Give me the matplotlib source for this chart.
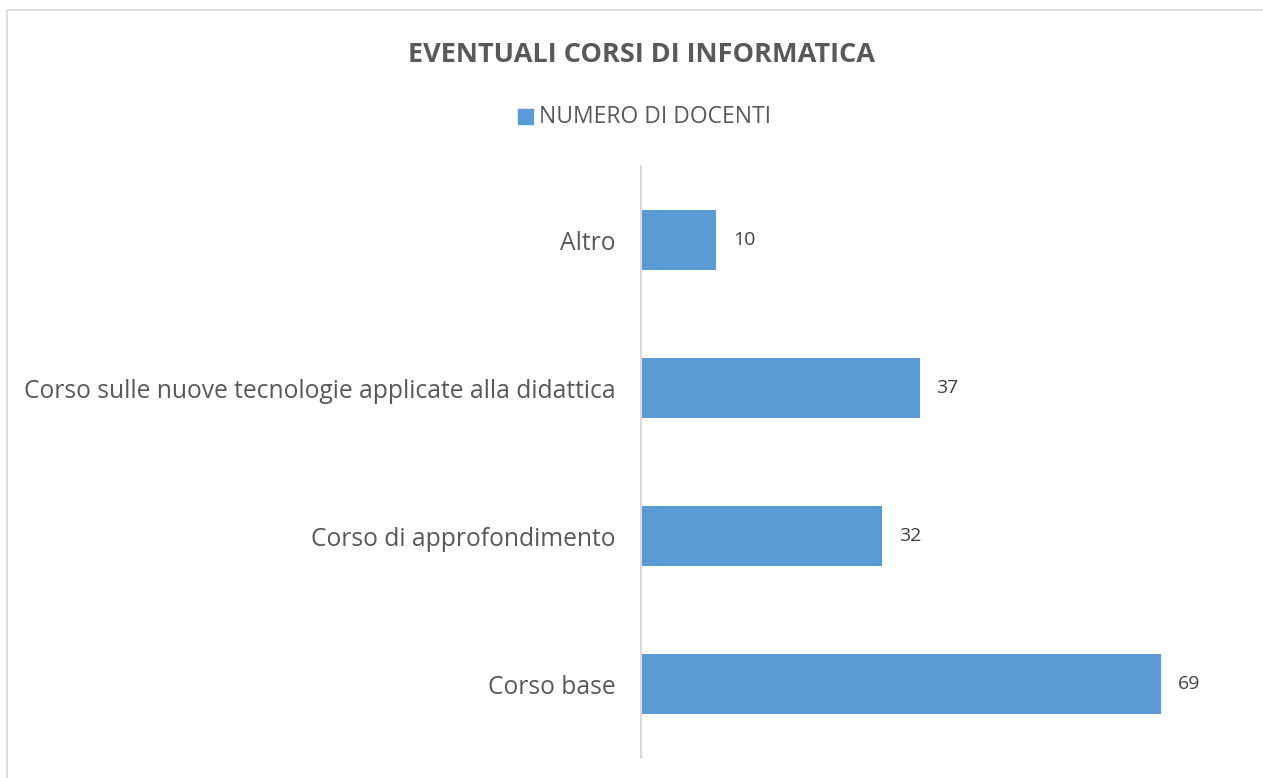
import matplotlib
matplotlib.use("Agg")
import matplotlib.pyplot as plt
from matplotlib.patches import Rectangle

plt.rcParams["font.family"] = ["Open Sans", "DejaVu Sans"]

TITLE = "EVENTUALI CORSI DI INFORMATICA"
SERIES = "NUMERO DI DOCENTI"
categories = [
    "Corso base",
    "Corso di approfondimento",
    "Corso sulle nuove tecnologie applicate alla didattica",
    "Altro",
]
values = [69, 32, 37, 10]

BAR = "#5b9bd5"
TEXT = "#595959"

W, H = 1263, 778
fig = plt.figure(figsize=(W / 100, H / 100), dpi=100)

# chart frame
fig.patches.append(Rectangle((7 / W, -0.01), 1.0, (H - 10) / H + 0.01,
                             transform=fig.transFigure, fill=False,
                             edgecolor="#d9d9d9", lw=1.2))

ax = fig.add_axes([641 / W, 1 - 758 / H, (1244 - 641) / W, (758 - 166) / H])
ax.barh(range(len(values)), values, height=0.4, color=BAR)
ax.set_xlim(0, 80)
ax.set_ylim(-0.5, len(values) - 0.5)
ax.set_yticks(range(len(values)))
ax.set_yticklabels(categories, fontsize=17.7, color=TEXT)
ax.tick_params(axis="y", length=0, pad=18.5)
ax.set_xticks([])
for s in ["top", "right", "bottom"]:
    ax.spines[s].set_visible(False)
ax.spines["left"].set_color("#d9d9d9")
ax.spines["left"].set_linewidth(1.5)

for i, v in enumerate(values):
    ax.annotate(str(v), (v, i), xytext=(12, 0), textcoords="offset points",
                va="center", ha="left", fontsize=14, color="#404040")

fig.text(642 / W, 1 - 55 / H, TITLE, ha="center", va="center",
         fontsize=19.5, fontweight="bold", color=TEXT)

# legend entry
fig.patches.append(Rectangle((518 / W, 1 - 124 / H), 15 / W, 15 / H,
                             transform=fig.transFigure, color=BAR))
fig.text(539 / W, 1 - 117 / H, SERIES, ha="left", va="center",
         fontsize=16.5, color=TEXT)

fig.savefig("out.png", dpi=100)
